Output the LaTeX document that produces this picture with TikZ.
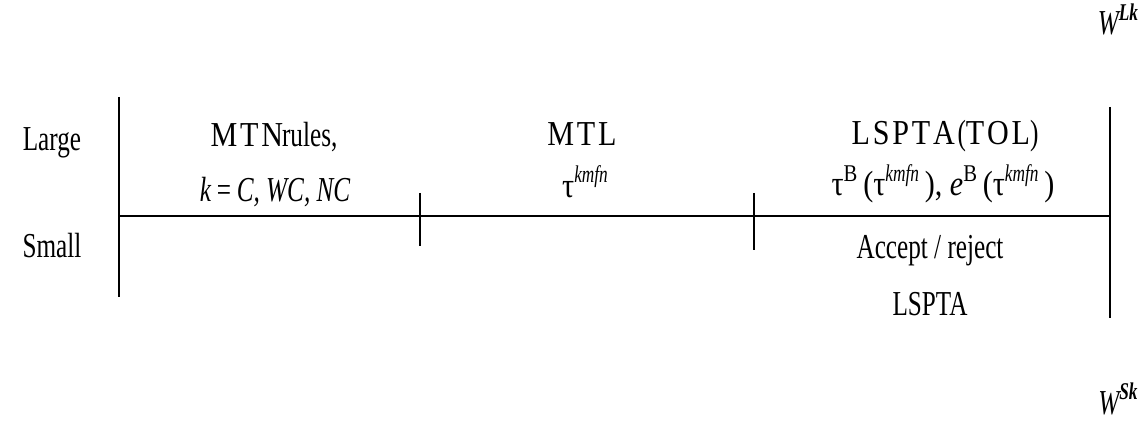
\documentclass[tikz,border=0pt]{standalone}
\usepackage{fontspec}
\setmainfont{Liberation Serif}
\newfontfamily\cond[FakeStretch=0.72]{Liberation Serif}
\newfontfamily\norm[FakeStretch=0.86]{Liberation Serif}
\newcommand{\sups}[1]{\raisebox{0.42em}{\fontsize{24}{26}\selectfont #1}}
\newcommand{\ls}{\kern0.08em}
\begin{document}
\begin{tikzpicture}[x=1pt,y=-1pt,
  lbl/.style={inner sep=0pt, anchor=base, font=\norm\fontsize{35}{38}\selectfont},
  clbl/.style={inner sep=0pt, anchor=base, font=\cond\fontsize{35}{38}\selectfont},
  rule/.style={line width=1.6pt}]
\useasboundingbox (0,0) rectangle (1148,422);
% frame coordinates
\coordinate (ltop) at (119,97);
\coordinate (lbot) at (119,297);
\coordinate (rtop) at (1110,107);
\coordinate (rbot) at (1110,318);
\coordinate (hl) at (119,216);
\coordinate (hr) at (1110,216);
\coordinate (t1a) at (420,193);
\coordinate (t1b) at (420,246);
\coordinate (t2a) at (754,193);
\coordinate (t2b) at (754,250);
\draw[rule] (ltop) -- (lbot);
\draw[rule] (rtop) -- (rbot);
\draw[rule] (hl) -- (hr);
\draw[rule] (t1a) -- (t1b);
\draw[rule] (t2a) -- (t2b);
% labels
\node[clbl] (large) at (52,151) {Large};
\node[clbl] (small) at (52,257) {Small};
\node[lbl] (mtn) at (274,147) {M\ls T\ls N\hspace{-0.03em}{\cond rules,}};
\node[clbl] (kk) at (275,202) {\itshape k\,{\upshape =}\,C, WC, NC};
\node[lbl] (mtl) at (582,146) {M\ls T\ls L};
\node[lbl] (tau) at (585,197) {τ\sups{\cond\itshape kmfn}};
\node[lbl] (lspta) at (945,145) {L\ls S\ls P\ls T\ls A\ls{\cond(}T\ls O\ls L{\cond)}};
\node[lbl] (taub) at (943,196) {τ\sups{B}\,(τ\sups{\cond\itshape kmfn}\,), \textit{e}\sups{B}\,(τ\sups{\cond\itshape kmfn}\,)};
\node[clbl] (acc) at (930,258) {Accept / reject};
\node[clbl] (lsp2) at (930,315) {LSPTA};
\node[clbl] (wl) at (1118,35) {\itshape W\sups{\bfseries Lk}};
\node[clbl] (ws) at (1118,414) {\itshape W\sups{\bfseries Sk}};
\end{tikzpicture}
\end{document}
